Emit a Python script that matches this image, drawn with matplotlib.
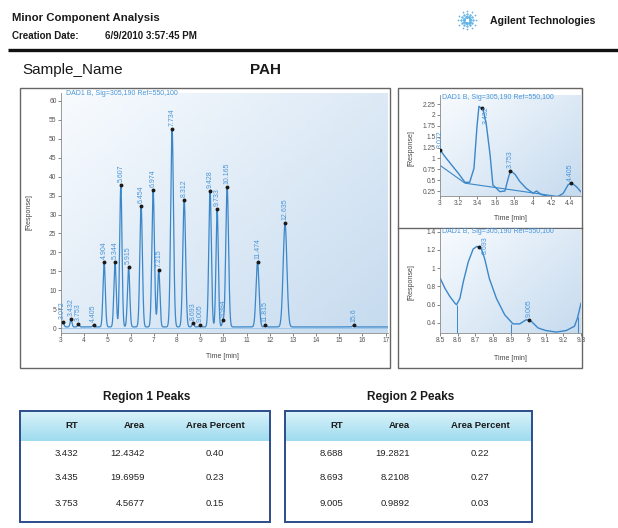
import numpy as np
import matplotlib.pyplot as plt
from matplotlib.colors import LinearSegmentedColormap
from matplotlib.patches import Rectangle

plt.rcParams['font.family'] = ['Liberation Sans', 'DejaVu Sans']

W, H = 618, 528

# main chromatogram, peak table (RT min, height, sigma)
peak_rt = [3.072, 3.432, 3.753, 4.405, 4.86, 5.33, 5.58, 5.915, 6.454, 6.974, 7.215,
           7.79, 8.312, 8.693, 9.005, 9.428, 9.733, 9.984, 10.165, 11.474, 11.815,
           12.66, 15.63]
peak_lbl = ["3.072", "3.432", "3.753", "4.405", "4.904", "5.344", "5.607", "5.915",
            "6.454", "6.974", "7.215", "7.734", "8.312", "8.693", "9.005", "9.428",
            "9.733", "9.984", "10.165", "11.474", "11.815", "12.635", "15.6"]
peak_h = [1.2, 2.0, 0.7, 0.5, 17.2, 17.1, 37.5, 15.8, 32.0, 36.1, 15.1, 52.4, 33.6,
          1.1, 0.4, 36.0, 31.1, 1.5, 36.9, 17.1, 0.6, 27.4, 0.5]
peak_w = [0.05, 0.04, 0.04, 0.04, 0.05, 0.05, 0.05, 0.05, 0.055, 0.055, 0.05, 0.06,
          0.06, 0.04, 0.04, 0.055, 0.05, 0.04, 0.06, 0.065, 0.04, 0.08, 0.05]

# region 1 zoom, 3.0 - 4.5 min
r1_t = [3.00, 3.054, 3.125, 3.197, 3.269, 3.32, 3.366, 3.40, 3.42, 3.466, 3.50, 3.54,
        3.57, 3.645, 3.70, 3.735, 3.76, 3.81, 3.86, 3.93, 4.004, 4.04, 4.09, 4.18,
        4.27, 4.33, 4.38, 4.416, 4.47, 4.52]
r1_y = [1.20, 1.04, 0.85, 0.66, 0.45, 0.45, 0.77, 1.77, 2.20, 2.12, 1.77, 1.08, 0.39,
        0.235, 0.25, 0.54, 0.72, 0.63, 0.47, 0.31, 0.20, 0.25, 0.17, 0.12, 0.12, 0.20,
        0.39, 0.44, 0.35, 0.23]
r1_base_t = [3.0, 3.27, 4.25, 4.52]
r1_base_y = [0.84, 0.43, 0.13, 0.12]
r1_pk_t = [3.005, 3.455, 3.76, 4.41]
r1_pk_y = [1.20, 2.15, 0.72, 0.44]
r1_pk_lbl = ["3.072", "3.432", "3.753", "4.405"]

# region 2 zoom, 8.5 - 9.3 min
r2_t = [8.50, 8.528, 8.556, 8.585, 8.594, 8.613, 8.632, 8.66, 8.688, 8.71, 8.735,
        8.754, 8.78, 8.82, 8.867, 8.914, 8.952, 8.99, 9.018, 9.056, 9.10, 9.16,
        9.216, 9.263, 9.28, 9.30]
r2_y = [0.894, 0.78, 0.69, 0.616, 0.60, 0.67, 0.85, 1.067, 1.21, 1.24, 1.21, 1.10,
        0.886, 0.67, 0.49, 0.39, 0.39, 0.436, 0.418, 0.346, 0.317, 0.30, 0.317,
        0.364, 0.454, 0.616]
r2_pk_t = [8.72, 9.005]
r2_pk_y = [1.23, 0.43]
r2_pk_lbl = ["8.693", "9.005"]
r2_cut_t = [8.598, 8.905, 9.285]
r2_cut_y = [0.60, 0.39, 0.47]

# peak tables
tbl_cols = ["RT", "Area", "Area Percent"]
r1_rt = ["3.432", "3.435", "3.753"]
r1_area = ["12.4342", "19.6959", "4.5677"]
r1_pct = ["0.40", "0.23", "0.15"]
r2_rt = ["8.688", "8.693", "9.005"]
r2_area = ["19.2821", "8.2108", "0.9892"]
r2_pct = ["0.22", "0.27", "0.03"]

SIG = "DAD1 B, Sig=305,190 Ref=550,100"
TRACE = '#3b87c9'
LBL = '#4a95d8'

fig = plt.figure(figsize=(W / 100, H / 100), dpi=100)


def px_axes(x0, y0, x1, y1, **kw):
    return fig.add_axes([x0 / W, 1 - y1 / H, (x1 - x0) / W, (y1 - y0) / H], **kw)


bg = px_axes(0, 0, W, H)
bg.set_autoscale_on(False)
bg.set_xlim(0, W)
bg.set_ylim(H, 0)
bg.axis('off')

# header
bg.text(12, 18, "Minor Component Analysis", fontsize=8.2, fontweight='bold', va='center', color='#1a1a1a')
bg.text(12, 36, "Creation Date:", fontsize=7, fontweight='bold', va='center', color='#1a1a1a')
bg.text(105, 36, "6/9/2010 3:57:45 PM", fontsize=7, fontweight='bold', va='center', color='#1a1a1a')
bg.text(490, 21, "Agilent Technologies", fontsize=7.6, fontweight='bold', va='center', color='#1a1a1a')
ang = np.linspace(0, 2 * np.pi, 12, endpoint=False)
for r, s in [(3, 4), (6, 3), (9, 1.6)]:
    bg.scatter(467 + r * np.cos(ang), 20 + r * np.sin(ang), s=s, color='#62b3e6', lw=0)
bg.plot([8, W], [50, 50], color='#111', lw=2.4, solid_capstyle='butt')
bg.text(22, 70, "Sample_Name", fontsize=11, va='center', color='#1a1a1a')
bg.text(250, 70, "PAH", fontsize=11, fontweight='bold', va='center', color='#1a1a1a')

# chart frames
bg.add_patch(Rectangle((20, 88), 370, 280, fill=False, ec='#666', lw=1.0))
bg.add_patch(Rectangle((398, 88), 184, 280, fill=False, ec='#666', lw=1.0))
bg.plot([398, 582], [228, 228], color='#666', lw=1.0)

shade_cmap = LinearSegmentedColormap.from_list('plotbg', ['#f8fbfe', '#c6dbef'])


def shade(ax):
    gx, gy = np.meshgrid(np.linspace(0, 1, 64), np.linspace(0, 1, 64))
    x0, x1 = ax.get_xlim()
    y0, y1 = ax.get_ylim()
    ax.imshow(0.55 * gx + 0.45 * (1 - gy), extent=(x0, x1, y0, y1), origin='lower',
              aspect='auto', cmap=shade_cmap, zorder=0, vmin=0, vmax=1)


def style(ax):
    for s in ['top', 'right']:
        ax.spines[s].set_visible(False)
    for s in ['left', 'bottom']:
        ax.spines[s].set_color('#8a8a8a')
        ax.spines[s].set_linewidth(0.6)
    ax.tick_params(labelsize=4.8, colors='#555', length=2, width=0.5, pad=1.2)


def sig_title(ax, y):
    ax.text(0.015, y, SIG, transform=ax.transAxes, fontsize=5, color=LBL,
            va='center', clip_on=False, zorder=5)


# main chromatogram
ax = px_axes(61, 93, 388, 333)
ax.set_xlim(3, 17.1)
ax.set_ylim(-1.3, 62.1)
style(ax)
ax.set_xticks(range(3, 18))
ax.set_yticks(range(0, 61, 5))
shade(ax)


def trace(t):
    out = np.full_like(t, 0.3, dtype=float)
    for rt, h, w in zip(peak_rt, peak_h, peak_w):
        out = out + h * np.exp(-0.5 * ((t - rt) / w) ** 2)
    return out


tt = np.linspace(3, 17.1, 5000)
ax.axhline(0, color='#8dbde6', lw=0.5, zorder=1)
ax.plot(tt, trace(tt), color=TRACE, lw=0.9, zorder=2)
my = trace(np.array(peak_rt))
ax.plot(peak_rt, my, 'o', ms=1.8, color='#1a1a1a', zorder=3)
for rt, yv, lbl in zip(peak_rt, my, peak_lbl):
    ax.text(rt, yv + 0.8, lbl, rotation=90, ha='center', va='bottom', fontsize=5, color=LBL, zorder=4)
sig_title(ax, 1.0)
bg.text(222, 356, "Time [min]", fontsize=5, color='#444', ha='center', va='center')
bg.text(29, 212, "[Response]", fontsize=5, color='#444', ha='center', va='center', rotation=90)

# region 1 zoom
a1 = px_axes(440, 95, 581, 196)
a1.set_xlim(3, 4.52)
a1.set_ylim(0.135, 2.46)
style(a1)
a1.set_xticks([3, 3.2, 3.4, 3.6, 3.8, 4, 4.2, 4.4])
a1.set_xticklabels(["3", "3.2", "3.4", "3.6", "3.8", "4", "4.2", "4.4"])
a1.set_yticks([0.25, 0.5, 0.75, 1, 1.25, 1.5, 1.75, 2, 2.25])
a1.set_yticklabels(["0.25", "0.5", "0.75", "1", "1.25", "1.5", "1.75", "2", "2.25"])
shade(a1)
a1.plot(r1_base_t, r1_base_y, color=TRACE, lw=0.8, zorder=2)
a1.plot(r1_t, r1_y, color=TRACE, lw=1.0, zorder=2)
a1.plot(r1_pk_t, r1_pk_y, 'o', ms=1.8, color='#1a1a1a', zorder=3)
for t, yv, lbl in zip(r1_pk_t, r1_pk_y, r1_pk_lbl):
    if yv > 2:
        a1.text(t + 0.04, yv + 0.05, lbl, rotation=90, ha='center', va='top', fontsize=5, color=LBL)
    else:
        a1.text(t, yv + 0.05, lbl, rotation=90, ha='center', va='bottom', fontsize=5, color=LBL)
sig_title(a1, 0.98)
bg.text(510, 219, "Time [min]", fontsize=5, color='#444', ha='center', va='center')
bg.text(411, 148, "[Response]", fontsize=5, color='#444', ha='center', va='center', rotation=90)

# region 2 zoom
a2 = px_axes(440, 229, 581, 333)
a2.set_xlim(8.5, 9.3)
a2.set_ylim(0.29, 1.43)
style(a2)
a2.set_xticks([8.5, 8.6, 8.7, 8.8, 8.9, 9, 9.1, 9.2, 9.3])
a2.set_xticklabels(["8.5", "8.6", "8.7", "8.8", "8.9", "9", "9.1", "9.2", "9.3"])
a2.set_yticks([0.4, 0.6, 0.8, 1, 1.2, 1.4])
a2.set_yticklabels(["0.4", "0.6", "0.8", "1", "1.2", "1.4"])
shade(a2)
a2.vlines(r2_cut_t, 0.29, r2_cut_y, color=TRACE, lw=0.7, zorder=2)
a2.plot(r2_t, r2_y, color=TRACE, lw=1.0, zorder=2)
a2.plot(r2_pk_t, r2_pk_y, 'o', ms=1.8, color='#1a1a1a', zorder=3)
for t, yv, lbl in zip(r2_pk_t, r2_pk_y, r2_pk_lbl):
    if yv > 1:
        a2.text(t + 0.035, 1.35, lbl, rotation=90, ha='center', va='top', fontsize=5, color=LBL)
    else:
        a2.text(t, yv + 0.03, lbl, rotation=90, ha='center', va='bottom', fontsize=5, color=LBL)
sig_title(a2, 0.98)
bg.text(510, 358, "Time [min]", fontsize=5, color='#444', ha='center', va='center')
bg.text(411, 282, "[Response]", fontsize=5, color='#444', ha='center', va='center', rotation=90)

# peak tables
head_cmap = LinearSegmentedColormap.from_list('head', ['#d9f2fa', '#9fdcef'])


def table(x0, x1, title, rts, areas, pcts):
    bg.text((x0 + x1) / 2 + 2, 397, title, ha='center', va='center', fontsize=8.5,
            fontweight='bold', color='#1a1a1a')
    grad = np.linspace(0, 1, 32).reshape(-1, 1)
    bg.imshow(grad, extent=(x0, x1, 441, 411), cmap=head_cmap, aspect='auto', zorder=1)
    bg.add_patch(Rectangle((x0, 411), x1 - x0, 111, fill=False, ec='#2c4c8c', lw=1.4, zorder=3))
    xs = [x0 + 58, x0 + 125, x0 + 195]
    has = ['right', 'right', 'center']
    for x, ha, c in zip(xs, has, tbl_cols):
        bg.text(x, 426, c, ha=ha, va='center', fontsize=6.8, fontweight='bold', color='#1a1a1a', zorder=4)
    for i, row in enumerate(zip(rts, areas, pcts)):
        for x, ha, v in zip(xs, has, row):
            bg.text(x, 453 + 25 * i, v, ha=ha, va='center', fontsize=6.8, color='#222', zorder=4)


table(20, 270, "Region 1 Peaks", r1_rt, r1_area, r1_pct)
table(285, 532, "Region 2 Peaks", r2_rt, r2_area, r2_pct)
bg.set_xlim(0, W)
bg.set_ylim(H, 0)

fig.savefig("out.png", dpi=100)
